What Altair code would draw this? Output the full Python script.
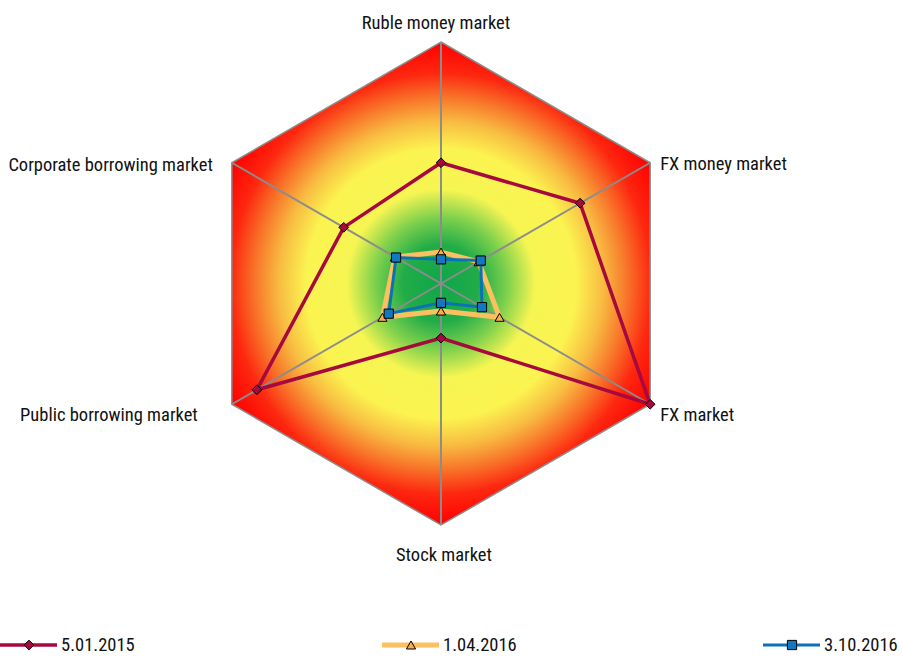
import math
import altair as alt
import pandas as pd

# ---------------- data ----------------
categories = [
    "Ruble money market",
    "FX money market",
    "FX market",
    "Stock market",
    "Public borrowing market",
    "Corporate borrowing market",
]
series_names = ["5.01.2015", "1.04.2016", "3.10.2016"]
values_jan2015 = [0.50, 0.665, 1.00, 0.226, 0.88, 0.465]
values_apr2016 = [0.13, 0.18, 0.28, 0.114, 0.28, 0.22]
values_oct2016 = [0.10, 0.19, 0.196, 0.08, 0.25, 0.215]
series_values = [values_jan2015, values_apr2016, values_oct2016]

# ---------------- styles ----------------
R_PX = 241.5          # radius of the hexagon in pixels
CX_PX, CY_PX = 441, 283.5
W, H = 903, 657
FONT = "Liberation Sans Narrow, Roboto Condensed, DejaVu Sans Condensed, sans-serif"
FONT_SIZE = 18.5

series_line_colors = ["#A6093D", "#FDBF5F", "#0B72B5"]
series_fill_colors = ["#A6093D", "#F7AE45", "#1079C0"]
series_widths = [3.5, 5, 3]
series_shapes = ["diamond", "triangle-up", "square"]
series_sizes = [95, 85, 85]

# label offsets (px) relative to the vertex: dx, dy (down positive), align
label_dx = [-5, 10, 10, 3, -34, -19]
label_dy = [-19, 1, 11, 30, 11, 2]
label_align = ["center", "left", "left", "center", "right", "right"]

legend_left_px = [0, 382, 763]
legend_y_px = 645

xs = alt.Scale(domain=[-CX_PX / R_PX, (W - CX_PX) / R_PX], nice=False, zero=False)
ys = alt.Scale(domain=[-(H - CY_PX) / R_PX, CY_PX / R_PX], nice=False, zero=False)

n = len(categories)
angles = [2 * math.pi * i / n for i in range(n)]
vx = [math.sin(a) for a in angles]
vy = [math.cos(a) for a in angles]

# hexagon background (area between top and bottom edges)
hex_area = pd.DataFrame({
    "x": [vx[4], vx[0], vx[2]],
    "top": [vy[5], vy[0], vy[1]],
    "bot": [vy[4], vy[3], vy[2]],
})
hex_outline = pd.DataFrame({"x": vx, "y": vy, "i": list(range(n))})
spokes = pd.DataFrame({"x0": [0.0] * n, "y0": [0.0] * n, "x": vx, "y": vy})

grad = alt.RadialGradient(
    gradient="radial",
    stops=[
        alt.GradientStop(color="#0EA64A", offset=0.0),
        alt.GradientStop(color="#22AC48", offset=0.16),
        alt.GradientStop(color="#7ACF4C", offset=0.27),
        alt.GradientStop(color="#F6F552", offset=0.39),
        alt.GradientStop(color="#FBF350", offset=0.56),
        alt.GradientStop(color="#F8BC42", offset=0.67),
        alt.GradientStop(color="#F8752A", offset=0.77),
        alt.GradientStop(color="#FD2810", offset=0.87),
        alt.GradientStop(color="#FF0000", offset=1.0),
    ],
    x1=0.5, y1=0.5, r1=0, x2=0.5, y2=0.5, r2=0.5,
)

bg = alt.Chart(hex_area).mark_area(fill=grad, opacity=1).encode(
    x=alt.X("x:Q", scale=xs, axis=None),
    y=alt.Y("top:Q", scale=ys, axis=None),
    y2="bot:Q",
)
outline = alt.Chart(hex_outline).mark_line(
    interpolate="linear-closed", color="#8c8c8c", strokeWidth=1.5
).encode(
    x=alt.X("x:Q", scale=xs, axis=None),
    y=alt.Y("y:Q", scale=ys, axis=None),
    order="i:Q",
)
spoke_layer = alt.Chart(spokes).mark_rule(color="#8c8c8c", strokeWidth=2).encode(
    x=alt.X("x0:Q", scale=xs, axis=None),
    y=alt.Y("y0:Q", scale=ys, axis=None),
    x2="x:Q",
    y2="y:Q",
)

layers = [bg, spoke_layer, outline]

for s, (name, vals) in enumerate(zip(series_names, series_values)):
    df = pd.DataFrame({
        "category": categories,
        "value": vals,
        "x": [v * a for v, a in zip(vals, vx)],
        "y": [v * b for v, b in zip(vals, vy)],
        "i": list(range(n)),
    })
    line = alt.Chart(df).mark_line(
        interpolate="linear-closed",
        color=series_line_colors[s],
        strokeWidth=series_widths[s],
    ).encode(
        x=alt.X("x:Q", scale=xs, axis=None),
        y=alt.Y("y:Q", scale=ys, axis=None),
        order="i:Q",
    )
    pts = alt.Chart(df).mark_point(
        shape=series_shapes[s],
        filled=True,
        fill=series_fill_colors[s],
        stroke="#000000",
        strokeWidth=1,
        size=series_sizes[s],
        opacity=1,
    ).encode(
        x=alt.X("x:Q", scale=xs, axis=None),
        y=alt.Y("y:Q", scale=ys, axis=None),
    )
    layers += [line, pts]

    left = legend_left_px[s]
    ly = (CY_PX - legend_y_px) / R_PX
    ldf = pd.DataFrame({
        "x1": [(left - CX_PX) / R_PX],
        "x2": [(left + 57 - CX_PX) / R_PX],
        "xm": [(left + 29 - CX_PX) / R_PX],
        "xt": [(left + 61 - CX_PX) / R_PX],
        "y": [ly],
        "name": [name],
    })
    lrule = alt.Chart(ldf).mark_rule(
        color=series_line_colors[s], strokeWidth=series_widths[s]
    ).encode(
        x=alt.X("x1:Q", scale=xs, axis=None),
        x2="x2:Q",
        y=alt.Y("y:Q", scale=ys, axis=None),
    )
    lpt = alt.Chart(ldf).mark_point(
        shape=series_shapes[s], filled=True, fill=series_fill_colors[s],
        stroke="#000000", strokeWidth=1, size=series_sizes[s], opacity=1,
    ).encode(
        x=alt.X("xm:Q", scale=xs, axis=None),
        y=alt.Y("y:Q", scale=ys, axis=None),
    )
    ltxt = alt.Chart(ldf).mark_text(
        align="left", baseline="middle", font=FONT, fontSize=FONT_SIZE, color="#111111"
    ).encode(
        x=alt.X("xt:Q", scale=xs, axis=None),
        y=alt.Y("y:Q", scale=ys, axis=None),
        text="name:N",
    )
    layers += [lrule, lpt, ltxt]

labels = pd.DataFrame({
    "category": categories,
    "x": [a + dx / R_PX for a, dx in zip(vx, label_dx)],
    "y": [b - dy / R_PX for b, dy in zip(vy, label_dy)],
    "align": label_align,
})
for al in ["left", "center", "right"]:
    layers.append(
        alt.Chart(labels).transform_filter(alt.datum.align == al).mark_text(
            align=al, baseline="middle", font=FONT, fontSize=FONT_SIZE, color="#111111"
        ).encode(
            x=alt.X("x:Q", scale=xs, axis=None),
            y=alt.Y("y:Q", scale=ys, axis=None),
            text="category:N",
        )
    )

chart = alt.layer(*layers).properties(
    width=W, height=H, autosize=alt.AutoSizeParams(type="none"), padding=0,
    background="white",
).configure_view(strokeWidth=0)

chart.save("out.html", embed_options={"renderer": "svg", "actions": False})
